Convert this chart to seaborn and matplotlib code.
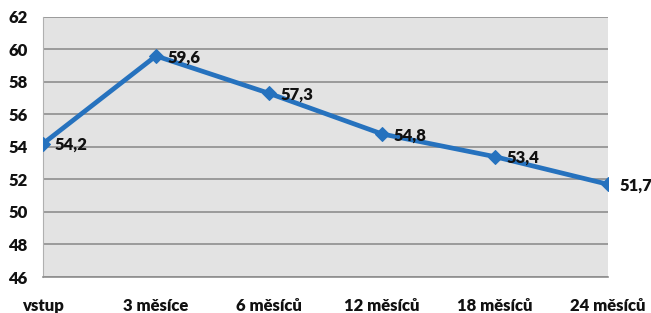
import pandas as pd
import seaborn as sns
import matplotlib.pyplot as plt

# data
obdobi = ["vstup", "3 měsíce", "6 měsíců", "12 měsíců", "18 měsíců", "24 měsíců"]
hodnoty = [54.2, 59.6, 57.3, 54.8, 53.4, 51.7]
y_ticks = [46, 48, 50, 52, 54, 56, 58, 60, 62]

df = pd.DataFrame({"obdobi": obdobi, "hodnota": hodnoty})

sns.set_style("white")
plt.rcParams["font.family"] = ["Lato", "DejaVu Sans"]
plt.rcParams["font.weight"] = "bold"

fig = plt.figure(figsize=(6.51, 3.13), dpi=100)
ax = fig.add_axes([0.066, 0.115, 0.868, 0.831])
ax.set_facecolor("#e3e3e3")

sns.lineplot(data=df, x="obdobi", y="hodnota", ax=ax, color="#2672be",
             linewidth=3.4, marker="D", markersize=7.5, markeredgecolor="#2672be",
             sort=False, zorder=3)

for i, v in enumerate(hodnoty):
    ax.annotate(f"{v:.1f}".replace(".", ","), (i, v), xytext=(8, -1),
                textcoords="offset points", ha="left", va="center",
                fontsize=12, fontweight="heavy", color="#111111",
                annotation_clip=False, zorder=4)

ax.set_xlim(0, len(obdobi) - 1)
ax.set_ylim(46, 62)
ax.set_yticks(y_ticks)
ax.yaxis.grid(True, color="#8e8e8e", linewidth=1.2)
ax.set_axisbelow(True)
for s in ["top", "right"]:
    ax.spines[s].set_visible(False)
ax.spines["left"].set_color("#b0b0b0")
ax.spines["bottom"].set_color("#8e8e8e")
ax.spines["bottom"].set_linewidth(1.2)
ax.tick_params(axis="y", length=0, pad=11, labelsize=12)
ax.tick_params(axis="x", length=0, pad=15, labelsize=12)
for t in ax.get_xticklabels() + ax.get_yticklabels():
    t.set_fontweight("heavy")
    t.set_color("#111111")
ax.set_xlabel("")
ax.set_ylabel("")

fig.savefig("out.png", dpi=100)
